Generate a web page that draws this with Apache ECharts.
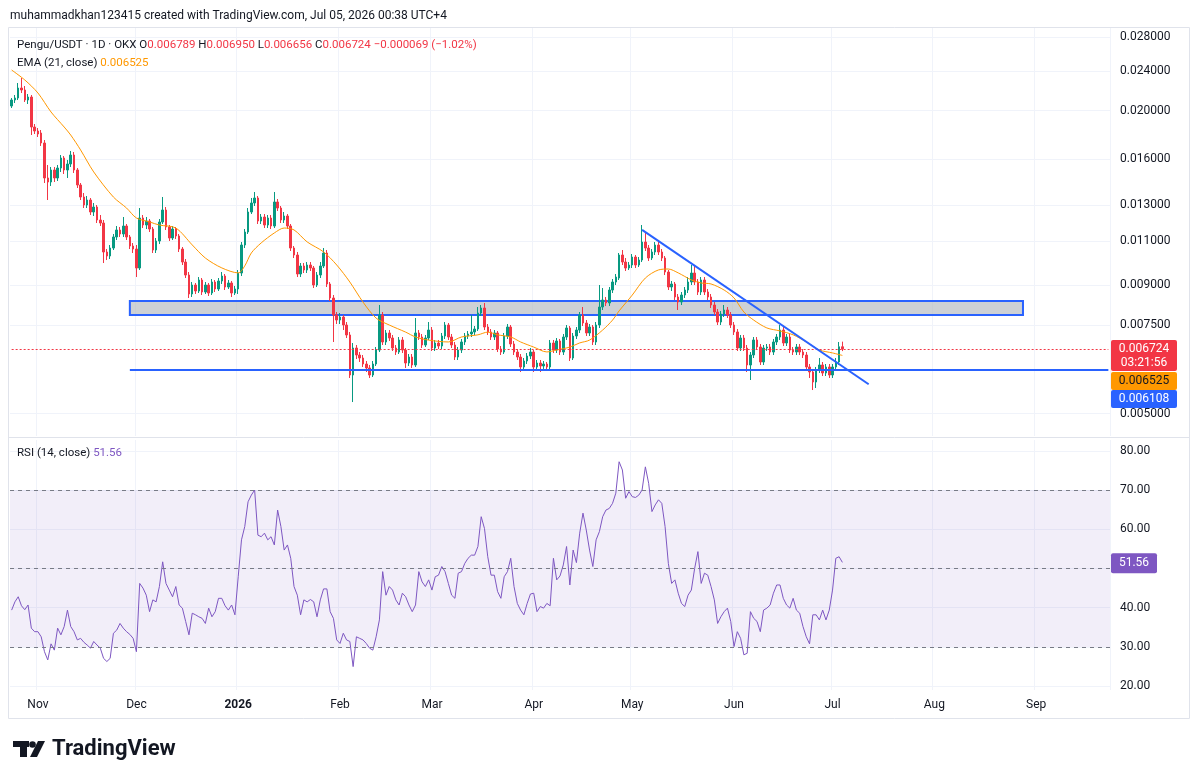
<!DOCTYPE html>
<html>
<head>
<meta charset="utf-8">
<title>Pengu/USDT 1D</title>
<script src="https://cdn.jsdelivr.net/npm/echarts@6/dist/echarts.min.js"></script>
<style>
  html, body { margin: 0; padding: 0; background: #fff; }
  #chart { width: 1200px; height: 781px; }
</style>
</head>
<body>
<div id="chart"></div>
<script>
// one candle per day from 24 Oct 2025, rows are [open, close, low, high]
var startDay = '2025-10-24';
var axisDays = 335; // the time scale runs on to late September

var candles = [
  [0.020434,0.021003,0.020248,0.021196],[0.021003,0.021196,0.020716,0.021489],[0.021196,0.022188,0.021003,0.022702],
  [0.022188,0.021986,0.021686,0.023227],[0.021986,0.021003,0.020811,0.022392],[0.021003,0.021293,0.020622,0.021587],
  [0.021293,0.018561,0.017894,0.021489],[0.018561,0.018224,0.017976,0.018818],[0.018224,0.017976,0.017731,0.018476],
  [0.018058,0.017251,0.017016,0.018308],[0.017251,0.014698,0.014365,0.017489],[0.014698,0.014431,0.013290,0.015599],
  [0.014431,0.015246,0.014169,0.015457],[0.015246,0.014698,0.014431,0.015457],[0.014698,0.015386,0.014497,0.015599],
  [0.015386,0.016106,0.015107,0.016329],[0.016106,0.015246,0.014969,0.016254],[0.015246,0.015670,0.014698,0.015960],
  [0.015670,0.016329,0.015457,0.016631],[0.016329,0.015246,0.015038,0.016555],[0.015246,0.014234,0.014040,0.015386],
  [0.014234,0.013474,0.013290,0.014365],[0.013474,0.012989,0.012812,0.013722],[0.012989,0.013290,0.012812,0.013536],
  [0.013290,0.012579,0.012408,0.013412],[0.012579,0.012871,0.012351,0.013109],[0.012871,0.012127,0.011962,0.012989],
  [0.012127,0.011962,0.011799,0.012408],[0.011962,0.010475,0.009960,0.012127],[0.010475,0.010285,0.010098,0.010619],
  [0.010285,0.010668,0.010144,0.010816],[0.010668,0.011220,0.010571,0.011375],[0.011220,0.011585,0.011066,0.011799],
  [0.011585,0.011375,0.011220,0.011745],[0.011375,0.011799,0.011220,0.012295],[0.011799,0.011220,0.011066,0.011907],
  [0.011220,0.010766,0.010619,0.011323],[0.010766,0.010619,0.010427,0.010915],[0.010619,0.009735,0.009342,0.010816],
  [0.009735,0.012239,0.009647,0.012812],[0.012239,0.011853,0.011691,0.012408],[0.011853,0.012072,0.011638,0.012295],
  [0.012072,0.011638,0.011479,0.012183],[0.011638,0.010571,0.010427,0.011745],[0.010571,0.011016,0.010427,0.011168],
  [0.011016,0.012016,0.010865,0.012183],[0.012016,0.012695,0.011907,0.013474],[0.012695,0.011745,0.011585,0.012871],
  [0.011745,0.011168,0.011016,0.011853],[0.011168,0.011638,0.011066,0.011799],[0.011638,0.011271,0.011117,0.011745],
  [0.011271,0.010619,0.010475,0.011375],[0.010619,0.010006,0.009870,0.010717],[0.010006,0.009428,0.009300,0.010144],
  [0.009428,0.008644,0.008487,0.009559],[0.008644,0.009007,0.008526,0.009131],[0.009007,0.008763,0.008644,0.009090],
  [0.008763,0.009215,0.008683,0.009342],[0.009215,0.008723,0.008604,0.009300],[0.008723,0.009007,0.008644,0.009131],
  [0.009007,0.008683,0.008565,0.009090],[0.008683,0.009131,0.008604,0.009257],[0.009131,0.008844,0.008723,0.009215],
  [0.008844,0.009173,0.008763,0.009300],[0.009173,0.009385,0.009048,0.009559],[0.009385,0.008925,0.008803,0.009472],
  [0.008925,0.009090,0.008844,0.009215],[0.009090,0.008683,0.008526,0.009173],[0.008683,0.008844,0.008604,0.008966],
  [0.008844,0.009515,0.008644,0.009647],[0.009515,0.010816,0.009385,0.010965],[0.010816,0.011479,0.010668,0.011638],
  [0.011479,0.012579,0.011375,0.012812],[0.012579,0.013109,0.012465,0.013412],[0.013109,0.013412,0.012930,0.013785],
  [0.013412,0.012072,0.011907,0.013536],[0.012072,0.012295,0.011907,0.012465],[0.012295,0.011853,0.011691,0.012465],
  [0.011853,0.012239,0.011691,0.012408],[0.012239,0.011799,0.011638,0.012408],[0.011799,0.013169,0.011691,0.013785],
  [0.013169,0.012812,0.012637,0.013351],[0.012812,0.012127,0.011962,0.012930],[0.012127,0.012351,0.011962,0.012579],
  [0.012351,0.011799,0.011638,0.012465],[0.011799,0.010668,0.010523,0.011907],[0.010668,0.010332,0.010191,0.010766],
  [0.010332,0.009472,0.009342,0.010475],[0.009472,0.009825,0.009342,0.009960],[0.009825,0.009647,0.009515,0.009960],
  [0.009647,0.009870,0.009515,0.010006],[0.009870,0.009735,0.009603,0.010006],[0.009735,0.009007,0.008884,0.009825],
  [0.009007,0.009428,0.008925,0.009559],[0.009428,0.009825,0.009300,0.010006],[0.009825,0.010427,0.009735,0.010668],
  [0.010427,0.009048,0.008925,0.010571],[0.009048,0.008487,0.008371,0.009131],[0.008487,0.007851,0.006939,0.008604],
  [0.007851,0.007673,0.007534,0.007960],[0.007673,0.007780,0.007534,0.007924],[0.007780,0.007500,0.007330,0.007851],
  [0.007500,0.007165,0.007067,0.007603],[0.007165,0.005966,0.005885,0.007264],[0.005966,0.006751,0.005272,0.006907],
  [0.006751,0.006538,0.006419,0.006844],[0.006538,0.006449,0.006332,0.006628],[0.006449,0.006274,0.006189,0.006538],
  [0.006274,0.006161,0.006049,0.006361],[0.006161,0.005966,0.005885,0.006246],[0.005966,0.006274,0.005912,0.006361],
  [0.006274,0.006689,0.006217,0.006782],[0.006689,0.007851,0.006628,0.008219],[0.007851,0.006939,0.006844,0.007960],
  [0.006939,0.007231,0.006844,0.007330],[0.007231,0.007067,0.006971,0.007330],[0.007067,0.006751,0.006659,0.007165],
  [0.006751,0.006628,0.006538,0.006844],[0.006628,0.007003,0.006568,0.007099],[0.007003,0.006689,0.006598,0.007099],
  [0.006689,0.006303,0.006161,0.006751],[0.006303,0.006478,0.006217,0.006568],[0.006478,0.006246,0.006161,0.006568],
  [0.006246,0.007231,0.006189,0.007744],[0.007231,0.007099,0.007003,0.007330],[0.007099,0.006844,0.006751,0.007198],
  [0.006844,0.007067,0.006782,0.007165],[0.007067,0.007330,0.007003,0.007603],[0.007330,0.006751,0.006659,0.007432],
  [0.006751,0.006907,0.006659,0.007003],[0.006907,0.006813,0.006720,0.007003],[0.006813,0.007132,0.006720,0.007231],
  [0.007132,0.007500,0.007035,0.007603],[0.007500,0.007099,0.007003,0.007569],[0.007099,0.006844,0.006751,0.007198],
  [0.006844,0.006478,0.006390,0.006939],[0.006478,0.006689,0.006390,0.006782],[0.006689,0.006939,0.006598,0.007035],
  [0.006939,0.007132,0.006844,0.007231],[0.007132,0.007198,0.007035,0.007297],[0.007198,0.007264,0.007099,0.007851],
  [0.007264,0.007364,0.007165,0.007466],[0.007364,0.007924,0.007297,0.008144],[0.007924,0.008107,0.007815,0.008219],
  [0.008107,0.007432,0.007330,0.008295],[0.007432,0.007264,0.007165,0.007534],[0.007264,0.007099,0.007003,0.007364],
  [0.007099,0.007231,0.007003,0.007330],[0.007231,0.006720,0.006628,0.007297],[0.006720,0.006628,0.006538,0.006813],
  [0.006628,0.007132,0.006568,0.007231],[0.007132,0.007432,0.007035,0.007534],[0.007432,0.006876,0.006782,0.007500],
  [0.006876,0.006628,0.006538,0.006971],[0.006628,0.006478,0.006390,0.006720],[0.006478,0.006189,0.006049,0.006568],
  [0.006189,0.006361,0.006104,0.006449],[0.006361,0.006508,0.006274,0.006598],[0.006508,0.006628,0.006419,0.006751],
  [0.006628,0.006189,0.006049,0.006689],[0.006189,0.006303,0.006133,0.006390],[0.006303,0.006217,0.006049,0.006390],
  [0.006217,0.006274,0.006133,0.006361],[0.006274,0.006189,0.006077,0.006332],[0.006189,0.006907,0.006104,0.007003],
  [0.006907,0.006689,0.006598,0.007003],[0.006689,0.006971,0.006598,0.007067],[0.006971,0.006628,0.006538,0.007035],
  [0.006628,0.007099,0.006538,0.007198],[0.007099,0.007398,0.007003,0.007500],[0.007398,0.006449,0.006361,0.007466],
  [0.006449,0.007132,0.006390,0.007231],[0.007132,0.007330,0.007035,0.007432],[0.007330,0.007851,0.007231,0.007960],
  [0.007851,0.007569,0.007466,0.008144],[0.007569,0.007231,0.007132,0.007673],[0.007231,0.007432,0.007132,0.007534],
  [0.007432,0.006939,0.006844,0.007500],[0.006939,0.007500,0.006844,0.007603],[0.007500,0.008144,0.007398,0.009007],
  [0.008144,0.008409,0.008033,0.008884],[0.008409,0.008295,0.008181,0.008526],[0.008295,0.008803,0.008181,0.008925],
  [0.008803,0.009131,0.008683,0.009257],[0.009131,0.009342,0.009007,0.009472],[0.009300,0.010332,0.009215,0.010427],
  [0.010332,0.010006,0.009870,0.010571],[0.010006,0.009735,0.009603,0.010191],[0.009735,0.009870,0.009647,0.010006],
  [0.009870,0.010238,0.009735,0.010379],[0.010238,0.009870,0.009735,0.010332],[0.009870,0.010098,0.009780,0.010238],
  [0.010098,0.010965,0.010006,0.011853],[0.010965,0.010668,0.010523,0.011427],[0.010668,0.010191,0.010052,0.010816],
  [0.010191,0.010475,0.010098,0.010619],[0.010475,0.010816,0.010332,0.010965],[0.010816,0.010475,0.010332,0.011066],
  [0.010475,0.010191,0.010052,0.010619],[0.010191,0.009559,0.009428,0.010285],[0.009559,0.008925,0.008803,0.009647],
  [0.008925,0.009048,0.008763,0.009173],[0.009048,0.008526,0.008409,0.009131],[0.008526,0.008333,0.008033,0.008644],
  [0.008333,0.008604,0.008219,0.008723],[0.008604,0.008803,0.008487,0.008925],[0.008803,0.009131,0.008683,0.009342],
  [0.009131,0.009515,0.009007,0.009870],[0.009515,0.009131,0.009007,0.009870],[0.009131,0.008723,0.008604,0.009257],
  [0.008723,0.009215,0.008604,0.009342],[0.009215,0.008723,0.008604,0.009342],[0.008723,0.008526,0.008409,0.008844],
  [0.008526,0.008219,0.008107,0.008644],[0.008219,0.007960,0.007851,0.008333],[0.007960,0.007603,0.007500,0.008070],
  [0.007603,0.007887,0.007500,0.007996],[0.007887,0.008033,0.007780,0.008219],[0.008033,0.007851,0.007744,0.008144],
  [0.007851,0.007500,0.007398,0.007960],[0.007500,0.007264,0.007165,0.007603],[0.007264,0.006751,0.006659,0.007364],
  [0.006751,0.007067,0.006659,0.007165],[0.007067,0.006751,0.006659,0.007165],[0.006751,0.006246,0.006049,0.006844],
  [0.006246,0.006538,0.005831,0.006628],[0.006538,0.007003,0.006449,0.007099],[0.007003,0.006782,0.006689,0.007099],
  [0.006782,0.006332,0.006246,0.006876],[0.006332,0.006751,0.006246,0.006844],[0.006751,0.006782,0.006659,0.006876],
  [0.006782,0.006628,0.006538,0.006876],[0.006628,0.006939,0.006538,0.007035],[0.006939,0.007099,0.006844,0.007198],
  [0.007099,0.007330,0.007003,0.007500],[0.007330,0.006907,0.006813,0.007432],[0.006907,0.007099,0.006813,0.007198],
  [0.007099,0.006689,0.006598,0.007198],[0.006689,0.006628,0.006538,0.006782],[0.006628,0.006782,0.006538,0.006876],
  [0.006782,0.006628,0.006538,0.006876],[0.006628,0.006538,0.006449,0.006720],[0.006538,0.006189,0.006104,0.006628],
  [0.006189,0.006049,0.005885,0.006274],[0.006049,0.005778,0.005570,0.006133],[0.005778,0.006104,0.005621,0.006189],
  [0.006104,0.006246,0.006021,0.006449],[0.006246,0.006021,0.005939,0.006332],[0.006021,0.006189,0.005939,0.006274],
  [0.006189,0.005966,0.005885,0.006274],[0.005966,0.006189,0.005885,0.006274],[0.006189,0.006332,0.006104,0.006449],
  [0.006332,0.006789,0.006246,0.006939],[0.006789,0.006724,0.006656,0.006950]
];

// EMA(21) read at some of the days (day index from the first candle)
var emaDays = [0,4,8,12,16,18,21,25,31,35,38,42,45,50,55,59,64,69,71,73,76,80,83,86,90,95,99,103,107,111,
  115,120,123,127,133,137,142,145,148,152,155,159,163,166,170,173,176,180,183,185,189,193,197,200,203,207,210,213,217,220,
  223,226,230,234,238,242,246,250,253];
var emaValues = [0.02409,0.02302,0.02169,0.01988,0.01856,0.01789,0.01671,0.01511,0.01347,0.01281,
  0.01224,0.01202,0.01185,0.01169,0.01082,0.01019,0.00974,0.00952,0.00983,0.01043,
  0.01092,0.01143,0.01169,0.01159,0.01097,0.01048,0.00987,0.00913,0.00833,0.00774,
  0.00750,0.00726,0.00710,0.00700,0.00694,0.00710,0.00717,0.00726,0.00717,0.00710,
  0.00694,0.00678,0.00663,0.00669,0.00678,0.00691,0.00700,0.00733,0.00767,0.00800,
  0.00860,0.00930,0.00965,0.00969,0.00952,0.00922,0.00909,0.00905,0.00880,0.00849,
  0.00796,0.00767,0.00740,0.00730,0.00717,0.00694,0.00669,0.00660,0.006525];

// RSI(14), one per candle
var rsiValues = [
  39.4,41.5,42.8,40.5,39.5,40.7,34.8,33.9,33.9,32.6, 28.8,26.7,30.8,29.2,34.8,33.1,35.2,39.4,35.2,33.9,
  31.8,32.2,31.2,30.5,29.7,31.4,30.5,29.7,27.1,26.3, 27.1,33.5,34.3,36.0,34.8,33.9,33.2,32.2,28.8,46.2,
  45.0,43.2,39.0,42.0,41.5,45.4,51.7,46.2,44.5,42.8, 45.4,40.7,39.9,36.5,33.1,38.6,38.2,37.7,37.3,36.0,
  39.9,37.7,39.0,42.4,42.4,40.5,39.4,40.7,38.2,47.9, 57.3,60.7,67.0,68.7,70.0,58.5,58.1,59.0,57.3,58.1,
  56.0,64.9,60.7,54.7,56.0,52.6,45.4,43.2,38.2,42.0, 41.5,42.1,41.5,37.7,42.0,44.8,44.8,39.0,37.3,31.8,
  30.9,33.5,31.8,31.4,25.0,32.6,32.2,31.8,30.9,29.7, 29.2,32.6,36.9,49.2,43.2,45.4,44.5,42.0,40.7,43.7,
  42.8,40.7,39.0,40.7,49.2,46.6,45.4,47.1,44.5,47.9, 48.3,50.5,49.2,46.2,43.2,42.4,48.8,49.2,51.3,52.6,
  53.4,53.4,55.6,63.2,60.2,53.0,48.3,48.3,44.1,42.4, 47.9,49.2,52.6,45.4,41.1,39.4,38.2,41.1,43.5,43.7,
  39.0,40.3,39.9,41.1,40.5,52.6,47.1,48.1,50.9,55.6, 45.8,54.7,51.5,59.0,64.1,59.8,54.7,50.5,57.3,59.4,
  63.2,64.9,65.3,66.6,69.2,77.2,75.1,67.9,69.6,68.3, 68.1,68.7,70.0,75.9,71.7,64.5,66.2,67.5,66.6,60.7,
  51.3,46.2,47.1,43.7,41.1,40.3,43.2,44.5,50.0,54.3, 46.2,48.8,48.3,45.4,42.0,36.0,37.7,39.0,39.9,36.5,
  30.1,33.9,32.2,28.0,28.4,39.0,37.3,36.5,33.9,39.4, 39.9,40.7,43.7,45.8,45.8,42.4,40.7,39.9,42.4,39.4,
  38.6,35.2,32.6,30.8,38.2,38.2,36.9,39.4,36.9,39.4, 44.5,52.6,53.0,51.56
];

var priceTicks = [0.005, 0.0075, 0.009, 0.011, 0.013, 0.016, 0.020, 0.024, 0.028];
var rsiTicks = [20, 30, 40, 50, 60, 70, 80];
var rsiLevels = [70, 50, 30];

// drawings on the chart
var zoneTop = 0.008371, zoneBottom = 0.007851, zoneFrom = 36, zoneTo = 308;
var supportLevel = 0.006108, supportFrom = 36;
var trendFrom = 192, trendFromPrice = 0.01159, trendTo = 261, trendToPrice = 0.00572;
var lastClose = 0.006724, lastEma = 0.006525, lastRsi = 51.56;

var dates = [];
(function () {
  var d = new Date(startDay + 'T00:00:00Z');
  for (var i = 0; i < axisDays; i++) {
    dates.push(d.toISOString().slice(0, 10));
    d.setUTCDate(d.getUTCDate() + 1);
  }
})();

var monthNames = ['Jan','Feb','Mar','Apr','May','Jun','Jul','Aug','Sep','Oct','Nov','Dec'];
function monthStart(idx, value) {
  return String(value).slice(8) === '01';
}

var up = '#089981', down = '#F23645', blue = '#2962FF', grid = '#F0F3FA', txt = '#131722';
var font = 'Roboto, sans-serif';

var chart = echarts.init(document.getElementById('chart'));

var emaData = emaDays.map(function (d, k) { return [dates[d], emaValues[k]]; });
var lastDay = dates[axisDays - 1];

var option = {
  animation: false,
  backgroundColor: '#ffffff',
  textStyle: { fontFamily: font },
  grid: [
    { left: 10, top: 28, width: 1100, height: 408 },
    { left: 10, top: 440, width: 1100, height: 250 }
  ],
  xAxis: [
    {
      type: 'category', gridIndex: 0, data: dates, boundaryGap: true,
      axisLine: { show: false }, axisTick: { show: false }, axisLabel: { show: false },
      splitLine: { show: true, interval: monthStart, lineStyle: { color: grid } }
    },
    {
      type: 'category', gridIndex: 1, data: dates, boundaryGap: true,
      axisLine: { show: false }, axisTick: { show: false },
      axisLabel: {
        interval: monthStart, color: txt, fontSize: 12, margin: 9,
        formatter: function (value) {
          var m = +value.slice(5, 7);
          if (m === 1) return '{y|' + value.slice(0, 4) + '}';
          return monthNames[m - 1];
        },
        rich: { y: { fontWeight: 'bold', fontSize: 12, color: txt } }
      },
      splitLine: { show: true, interval: monthStart, lineStyle: { color: grid } }
    }
  ],
  yAxis: [
    {
      type: 'log', logBase: 10, gridIndex: 0, position: 'right',
      min: 0.004513, max: 0.0292,
      axisLine: { show: false },
      axisTick: { show: false, customValues: priceTicks },
      axisLabel: {
        customValues: priceTicks, color: txt, fontSize: 12, margin: 10,
        formatter: function (v) { return Number(v).toFixed(6); }
      },
      splitLine: { show: true, lineStyle: { color: grid } }
    },
    {
      type: 'value', gridIndex: 1, position: 'right',
      min: 19.04, max: 82.74,
      axisLine: { show: false },
      axisTick: { show: false, customValues: rsiTicks },
      axisLabel: {
        customValues: rsiTicks, color: txt, fontSize: 12, margin: 10,
        formatter: function (v) { return Number(v).toFixed(2); }
      },
      splitLine: { show: true, lineStyle: { color: grid } }
    }
  ],
  series: [
    {
      name: 'Pengu/USDT', type: 'candlestick', xAxisIndex: 0, yAxisIndex: 0,
      data: candles, barWidth: 2,
      itemStyle: { color: up, color0: down, borderColor: up, borderColor0: down, borderWidth: 1 },
      markArea: {
        silent: true,
        itemStyle: { color: 'rgba(178,184,190,0.65)', borderColor: blue, borderWidth: 2 },
        data: [[{ xAxis: dates[zoneFrom], yAxis: zoneTop }, { xAxis: dates[zoneTo], yAxis: zoneBottom }]]
      },
      markLine: {
        silent: true, symbol: 'none', label: { show: false },
        data: [
          [{ coord: [dates[0], lastClose], lineStyle: { color: down, type: [2, 2], width: 1 } },
           { coord: [lastDay, lastClose] }],
          [{ coord: [dates[supportFrom], supportLevel], lineStyle: { color: blue, width: 2, type: 'solid' } },
           { coord: [lastDay, supportLevel] }],
          [{ coord: [dates[trendFrom], trendFromPrice], lineStyle: { color: blue, width: 2, type: 'solid' } },
           { coord: [dates[trendTo], trendToPrice] }]
        ]
      }
    },
    {
      name: 'EMA', type: 'line', xAxisIndex: 0, yAxisIndex: 0,
      data: emaData, showSymbol: false, smooth: 0.3,
      lineStyle: { color: '#FF9800', width: 1 }
    },
    {
      name: 'RSI', type: 'line', xAxisIndex: 1, yAxisIndex: 1,
      data: rsiValues, showSymbol: false,
      lineStyle: { color: '#7E57C2', width: 1 },
      markArea: {
        silent: true,
        itemStyle: { color: 'rgba(126,87,194,0.1)' },
        data: [[{ yAxis: 30 }, { yAxis: 70 }]]
      },
      markLine: {
        silent: true, symbol: 'none', label: { show: false },
        lineStyle: { color: '#787B86', type: [4, 4], width: 1 },
        data: rsiLevels.map(function (v) { return { yAxis: v }; })
      }
    }
  ]
};
chart.setOption(option);

// texts, frame and the price tags on the scale
var yClose = chart.convertToPixel({ yAxisIndex: 0 }, lastClose);
var yRsi = chart.convertToPixel({ yAxisIndex: 1 }, lastRsi);

function tag(y, h, bg, lines, color, w) {
  var els = [{ type: 'rect', z: 100, shape: { x: 1111, y: y, width: w, height: h, r: 2 }, style: { fill: bg } }];
  lines.forEach(function (t, k) {
    els.push({
      type: 'text', z: 101,
      style: { x: 1111 + w / 2, y: y + 9.5 + k * 14, text: t, fill: color, font: '12px ' + font,
        textAlign: 'center', textVerticalAlign: 'middle' }
    });
  });
  return els;
}

var legendFont = '11.5px ' + font;
var g = [
  { type: 'rect', shape: { x: 8.5, y: 27.5, width: 1181, height: 691 }, style: { fill: 'none', stroke: '#E0E3EB' } },
  { type: 'line', shape: { x1: 8, y1: 437.5, x2: 1190, y2: 437.5 }, style: { stroke: '#E0E3EB', lineWidth: 1 } },
  {
    type: 'text',
    style: { x: 10, y: 16, text: 'muhammadkhan123415 created with TradingView.com, Jul 05, 2026 00:38 UTC+4',
      fill: txt, font: '12px ' + font, textVerticalAlign: 'middle' }
  },
  {
    type: 'text',
    style: {
      x: 17, y: 45, textVerticalAlign: 'middle', font: legendFont, fill: txt,
      text: '{n|Pengu/USDT · 1D · OKX} {n|O}{r|0.006789} {n|H}{r|0.006950} {n|L}{r|0.006656} {n|C}{r|0.006724} {r|−0.000069 (−1.02%)}',
      rich: { n: { fill: txt, font: legendFont }, r: { fill: down, font: legendFont } }
    }
  },
  {
    type: 'text',
    style: {
      x: 17, y: 63, textVerticalAlign: 'middle', font: legendFont, fill: txt,
      text: '{n|EMA (21, close)} {o|0.006525}',
      rich: { n: { fill: txt, font: legendFont }, o: { fill: '#FF9800', font: legendFont } }
    }
  },
  {
    type: 'text',
    style: {
      x: 17, y: 453, textVerticalAlign: 'middle', font: legendFont, fill: txt,
      text: '{n|RSI (14, close)} {p|51.56}',
      rich: { n: { fill: txt, font: legendFont }, p: { fill: '#7E57C2', font: legendFont } }
    }
  },
  // TradingView mark
  { type: 'rect', shape: { x: 13, y: 741, width: 16, height: 6 }, style: { fill: txt } },
  { type: 'rect', shape: { x: 20, y: 741, width: 7, height: 16 }, style: { fill: txt } },
  { type: 'circle', shape: { cx: 32.5, cy: 744.5, r: 3.3 }, style: { fill: txt } },
  { type: 'polygon', shape: { points: [[38, 741], [45, 741], [37, 757], [30, 757]] }, style: { fill: txt } },
  {
    type: 'text',
    style: { x: 52, y: 749, text: 'TradingView', fill: txt, font: 'bold 22px ' + font, textVerticalAlign: 'middle' }
  }
];

g = g.concat(tag(yClose - 9, 31, down, [lastClose.toFixed(6), '03:21:56'], '#ffffff', 66));
g = g.concat(tag(yClose + 23, 18, '#FF9800', [lastEma.toFixed(6)], txt, 66));
g = g.concat(tag(yClose + 41, 18, blue, [supportLevel.toFixed(6)], '#ffffff', 66));
g = g.concat(tag(yRsi - 9, 20, '#7E57C2', [lastRsi.toFixed(2)], '#ffffff', 46));

chart.setOption({ graphic: g });

window.addEventListener('resize', function () {
  chart.resize();
});
</script>
</body>
</html>
